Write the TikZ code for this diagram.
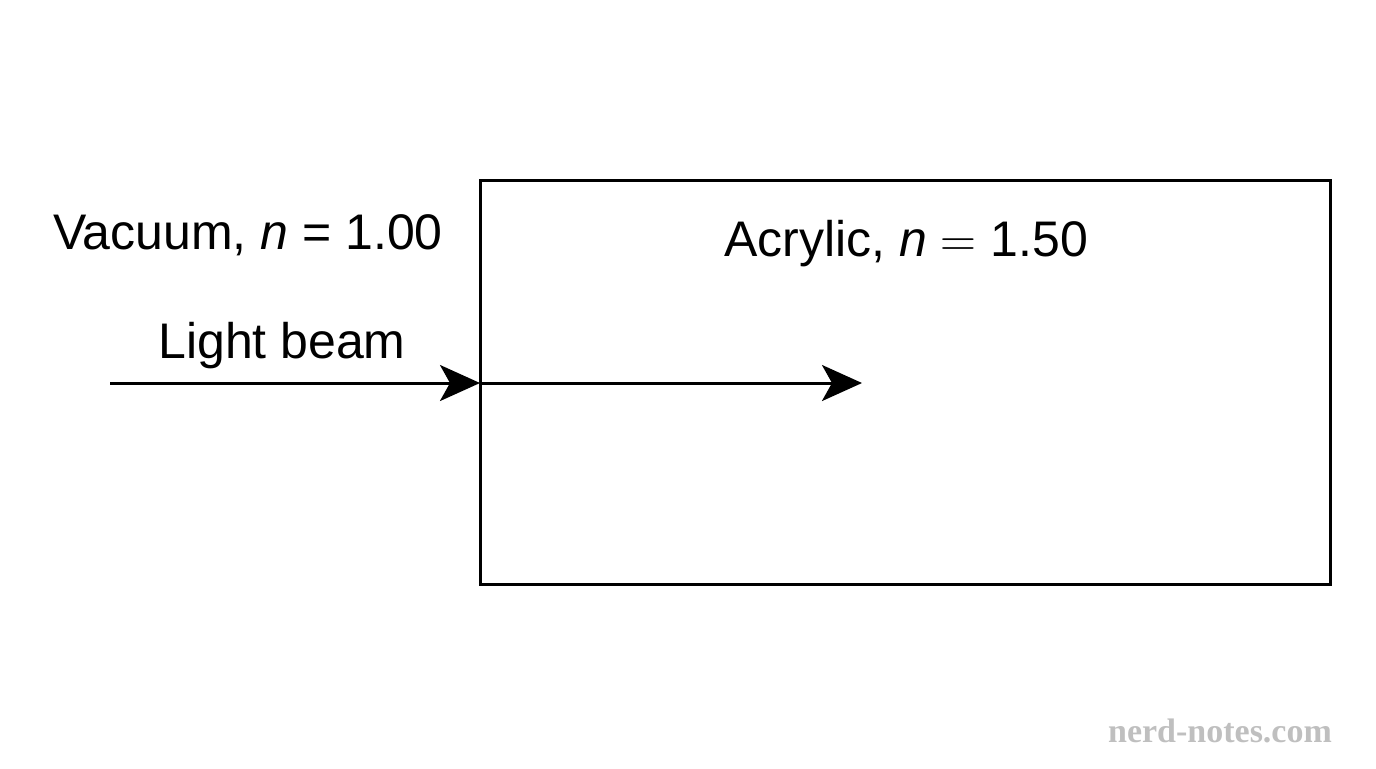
\documentclass[tikz,border=0pt]{standalone}
\usepackage{fontspec}
\setmainfont{Liberation Sans}
\newfontfamily\wmfont{Liberation Serif}
\usetikzlibrary{arrows.meta}
\begin{document}
\begin{tikzpicture}[x=0.5pt,y=-0.5pt,
  lbl/.style={font=\fontsize{25}{30}\selectfont},
  beam/.style={line width=1.5pt,-{Stealth[length=20pt,width=18pt,inset=5pt]}}]
\useasboundingbox (0,0) rectangle (1376,768);
\node[draw,line width=1.5pt,minimum width=425pt,minimum height=202pt,inner sep=0pt] (box) at (905,382) {};
\coordinate (start) at (110,383);
\coordinate (entry) at (480,383);
\coordinate (stop) at (862,383);
\draw[beam] (start) -- (entry);
\draw[beam] (entry) -- (stop);
\node[lbl] (vac) at (248,235) {Vacuum, \textit{n} = 1.00};
\node[lbl] (acr) at (906,244) {Acrylic, \textit{n} \(=\) 1.50};
\node[lbl] (lb) at (282,346) {Light beam};
\node[font=\wmfont\bfseries\fontsize{17}{20}\selectfont,text=black!25] (wm) at (1220,731) {nerd-notes.com};
\end{tikzpicture}
\end{document}
